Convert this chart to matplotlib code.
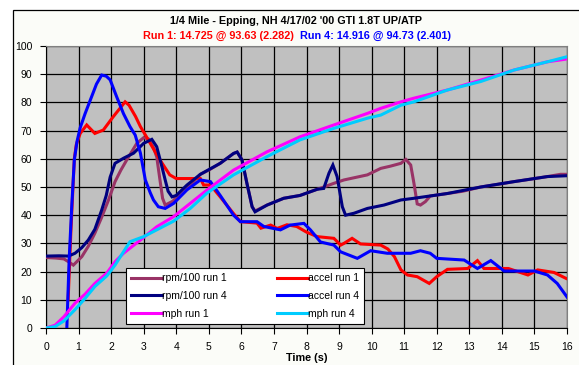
import matplotlib
matplotlib.use("Agg")
import matplotlib.pyplot as plt
from matplotlib.patches import Rectangle

plt.rcParams['font.family'] = ['Liberation Sans', 'DejaVu Sans']

# ---------------- data ----------------
rpm1_t = [0, 0.3, 0.55, 0.69, 0.84, 1.1, 1.3, 1.5, 1.7, 1.92, 2.12, 2.3, 2.48, 2.79, 3.0, 3.15, 3.3,
          3.4, 3.5, 3.58, 3.66, 3.9, 4.2, 4.5, 4.74, 5.0, 5.35, 5.76, 5.87, 6.02, 6.17, 6.33, 6.42, 6.79,
          7.3, 7.8, 8.33, 8.53, 8.84, 9.15, 9.87, 10.28, 10.58, 10.9, 11.05, 11.2, 11.3, 11.4, 11.5,
          11.65, 11.8, 12.33, 12.8, 13.35, 13.9, 14.37, 14.9, 15.4, 15.8, 16.0]
rpm1_v = [25, 24.8, 24.5, 23.5, 22.3, 25.3, 29, 33.6, 39, 45.4, 51.9, 56, 59.6, 65.5, 67.5, 67, 64,
          60.7, 52.5, 46, 43.6, 45, 49, 51.5, 54.5, 56, 58.4, 61.9, 62.4, 59.6, 51.3, 43, 41.5, 43.6,
          46, 47, 49.2, 50, 51.3, 52.5, 54.3, 56.6, 57.4, 58.4, 59.8, 57.8, 51.3, 44, 43.6,
          44.8, 46.8, 47.7, 48.5, 50, 51, 51.9, 52.8, 53.7, 54.5, 54.5]

accel1_t = [0.68, 0.76, 0.82, 0.87, 0.93, 1.05, 1.25, 1.5, 1.76, 2.07, 2.43, 2.55, 2.75, 2.9, 3.05, 3.2,
            3.5, 3.8, 4.0, 4.3, 4.74, 4.84, 5.05, 5.35, 5.75, 5.97, 6.48, 6.6, 6.9, 7.1, 7.4, 7.7,
            8.0, 8.33, 8.84, 9.05, 9.15, 9.4, 9.66, 10.28, 10.5, 10.7, 10.9, 11.1, 11.4, 11.77,
            12.0, 12.33, 12.95, 13.25, 13.45, 14.2, 14.8, 15.1, 15.6, 15.97]
accel1_v = [10, 33, 48, 60, 65, 69, 72, 69, 70.2, 75, 80.2, 79, 75, 71.4, 68.5, 65.5,
            59.6, 54.3, 53, 53, 53, 50.7, 50.7, 46.5, 40.7, 37.7, 37.2, 35.4, 36.5, 35.3, 36.6, 36,
            34, 32.4, 31.8, 29.4, 30, 31.8, 29.8, 29.4, 28, 25.3, 20.6, 18.8, 18.2, 15.8,
            18.2, 20.8, 21.1, 23.9, 21.1, 21.1, 18.8, 20.6, 19.7, 17.6]

rpm4_t = [0, 0.4, 0.69, 0.89, 1.1, 1.3, 1.5, 1.71, 1.85, 1.97, 2.12, 2.38, 2.69, 3.0, 3.25,
          3.4, 3.56, 3.66, 3.75, 3.87, 4.0, 4.33, 4.74, 5.35, 5.76, 5.87, 6.02, 6.17, 6.33, 6.42, 6.79,
          7.3, 7.8, 8.33, 8.53, 8.69, 8.81, 8.94, 9.1, 9.2, 9.46, 9.87, 10.38, 10.9, 11.3, 12.33,
          13.35, 14.37, 15.4, 16.0]
rpm4_v = [25.5, 25.6, 25.5, 26.5, 28.5, 31.2, 35, 41.8, 47, 53.5, 58.4, 60.2, 62, 65.5, 66.9,
          64.3, 57.2, 52.5, 48.5, 46.5, 47, 50.7, 54.5, 58.4, 61.9, 62.4, 59.6, 51.3, 43, 41.2, 43.6,
          46, 47, 49.2, 49.5, 54.9, 57.8, 53.7, 43, 40, 40.7, 42.4, 43.6, 45.4, 46, 47.7,
          50, 51.9, 53.7, 54]

accel4_t = [0.64, 0.71, 0.79, 0.87, 0.95, 1.05, 1.2, 1.35, 1.55, 1.71, 1.85, 1.97, 2.17, 2.38, 2.58,
            2.74, 2.9, 3.05, 3.2, 3.3, 3.45, 3.66, 3.92, 4.33, 4.74, 5.05, 5.35, 5.76, 5.97, 6.48,
            6.69, 7.2, 7.5, 7.92, 8.12, 8.43, 8.84, 9.05, 9.56, 9.97, 10.48, 11.2, 11.5, 11.8,
            12.0, 12.84, 13.25, 13.66, 14.07, 15.0, 15.4, 15.7, 16.0]
accel4_v = [0, 24, 43, 59.6, 66, 71, 76, 80.5, 86.5, 89.7, 89.3, 88, 82, 76, 71.4,
            68.4, 62, 52.5, 48, 45.4, 43, 42.4, 44.2, 49, 52.5, 51.9, 47, 40, 37.7, 37.7,
            36, 34.8, 36.5, 37.1, 34.8, 30.5, 29.4, 27, 24.7, 27.4, 26.5, 26.5, 27.4, 26.5,
            24.7, 24.1, 21.1, 23.9, 20.2, 20.2, 18.8, 15.8, 11]

mph1_t = [0, 0.28, 0.55, 0.89, 1.2, 1.5, 1.87, 2.12, 2.38, 2.9, 3.4, 3.92, 4.43, 4.94, 5.76, 6.79,
          7.8, 8.84, 9.87, 10.28, 10.9, 11.3, 12.33, 13.35, 14.38, 15.4, 16.0]
mph1_v = [0, 1, 4, 8.8, 12, 15.8, 19.5, 23.5, 26.5, 31.2, 35.9, 39.5, 44.2, 48.9, 56, 62.5,
          67.8, 72, 76.1, 77.9, 80.2, 81.5, 84.4, 87.9, 91.5, 94.4, 95.4]

mph4_t = [0, 0.28, 0.55, 0.89, 1.2, 1.5, 1.87, 2.12, 2.35, 2.58, 3.0, 3.5, 3.92, 4.43, 4.94, 5.76,
          6.79, 7.8, 8.84, 9.87, 10.28, 10.9, 11.3, 12.33, 13.35, 14.38, 15.4, 16.0]
mph4_v = [0, 0.5, 2.5, 6.5, 10.5, 14.7, 18.5, 22.3, 26.5, 30.6, 32.4, 35.4, 37.9, 42.4, 47.8, 54.3,
          60.8, 66.7, 70.8, 74.4, 75.5, 79, 80.2, 84.4, 87.4, 91.5, 94.4, 96.2]

x_ticks = list(range(0, 17))
y_ticks = list(range(0, 101, 10))

title = "1/4 Mile - Epping, NH 4/17/02 '00 GTI 1.8T UP/ATP"
sub1 = "Run 1: 14.725 @ 93.63 (2.282)"
sub4 = "Run 4: 14.916 @ 94.73 (2.401)"
xlabel = "Time (s)"

# ---------------- figure ----------------
W, H = 579, 365
fig = plt.figure(figsize=(W / 100, H / 100), dpi=100)
fig.patch.set_facecolor('white')

# chart-area frame
frame = Rectangle((13 / W, -0.05), 1.1, 1 - 10 / H + 0.05, transform=fig.transFigure,
                  facecolor='#FBFCF8', edgecolor='black', linewidth=0.9, zorder=-10)
fig.patches.append(frame)

ax = fig.add_axes([46 / W, 1 - 328 / H, (567 - 46) / W, (328 - 46) / H])
ax.set_zorder(1)
ax.set_facecolor('#C0C0C0')

lw = 2.2
series = [
    (rpm1_t, rpm1_v, '#993366', 'rpm/100 run 1'),
    (accel1_t, accel1_v, '#FF0000', 'accel run 1'),
    (rpm4_t, rpm4_v, '#000080', 'rpm/100 run 4'),
    (accel4_t, accel4_v, '#0000FF', 'accel run 4'),
    (mph1_t, mph1_v, '#FF00FF', 'mph run 1'),
    (mph4_t, mph4_v, '#00CCFF', 'mph run 4'),
]
handles = {}
for t, v, c, lab in series:
    h, = ax.plot(t, v, color=c, linewidth=lw, label=lab, solid_joinstyle='miter', zorder=3)
    handles[lab] = h

ax.set_xlim(0, 16)
ax.set_ylim(0, 100)
ax.set_xticks(x_ticks)
ax.set_yticks(y_ticks)
ax.grid(True, color='black', linewidth=0.9, zorder=1)
ax.set_axisbelow(True)
ax.tick_params(axis='both', direction='out', length=4, width=0.8, color='black',
               labelsize=7.5, pad=6)
for s in ['top', 'right']:
    ax.spines[s].set_color('#808080')
    ax.spines[s].set_linewidth(0.8)
for s in ['left', 'bottom']:
    ax.spines[s].set_color('black')
    ax.spines[s].set_linewidth(0.8)

ax.set_xlabel(xlabel, fontsize=7.8, fontweight='bold', labelpad=1)

order = ['rpm/100 run 1', 'rpm/100 run 4', 'mph run 1', 'accel run 1', 'accel run 4', 'mph run 4']
leg = ax.legend([handles[k] for k in order], order, ncol=2, loc='lower left',
                bbox_to_anchor=(0.153, 0.014, 0.458, 0.209), mode='expand',
                fontsize=7.5, frameon=True, fancybox=False, framealpha=1,
                edgecolor='black', handlelength=3.0, handletextpad=0.0,
                labelspacing=0.75, borderpad=0.5, columnspacing=1.0, borderaxespad=0)
leg.get_frame().set_linewidth(0.8)
leg.set_zorder(5)

fig.text(296 / W, 1 - 21 / H, title, ha='center', va='center', fontsize=7.8, fontweight='bold')
fig.text(294 / W, 1 - 36 / H, sub1, ha='right', va='center', fontsize=7.8,
         fontweight='bold', color='#FF0000')
fig.text(300 / W, 1 - 36 / H, sub4, ha='left', va='center', fontsize=7.8,
         fontweight='bold', color='#0000FF')

fig.savefig('out.png', dpi=100, facecolor=fig.get_facecolor())
